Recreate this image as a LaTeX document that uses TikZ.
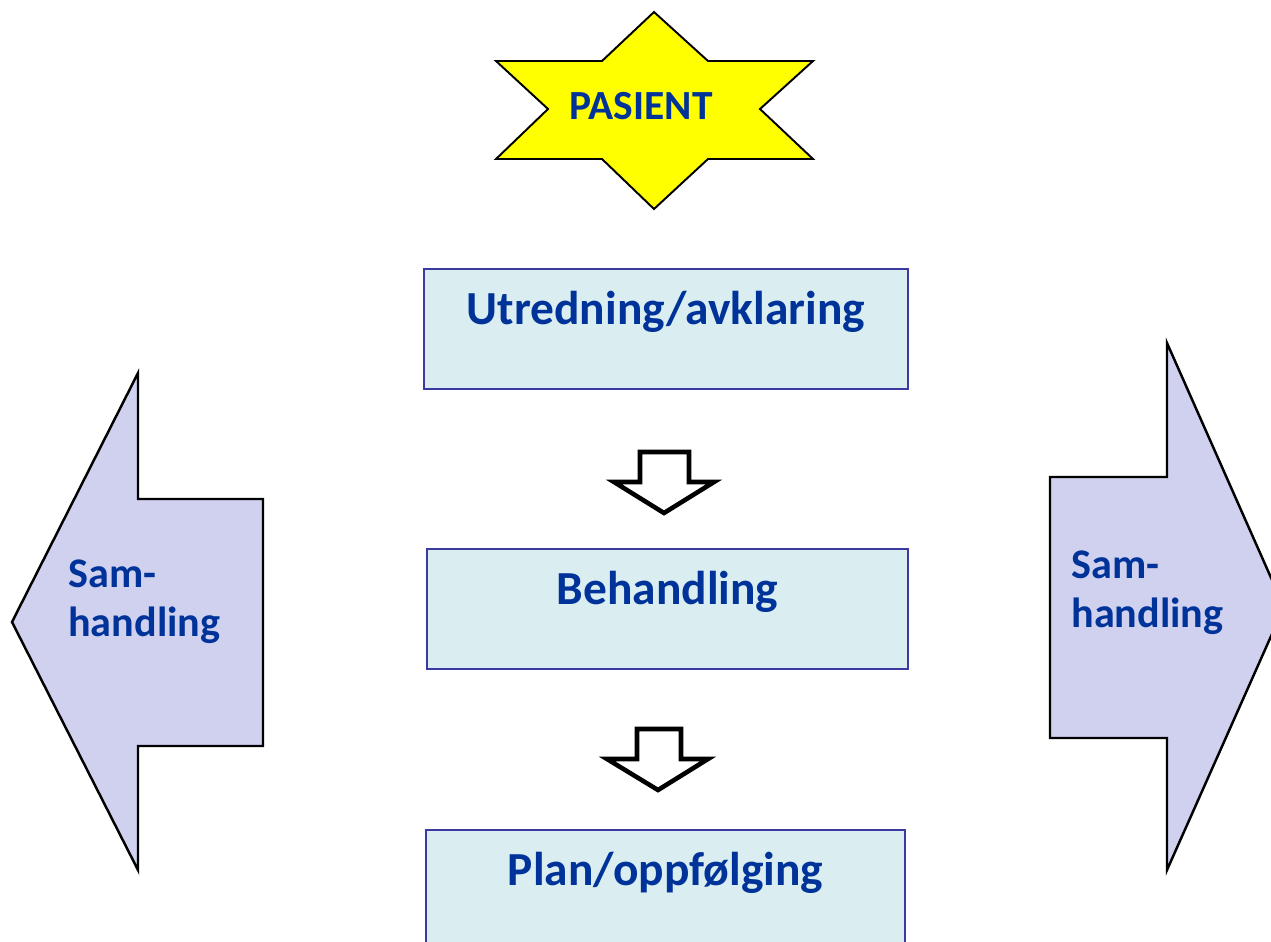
\documentclass[tikz,border=0pt]{standalone}
\usepackage{fontspec}
\setmainfont{Carlito}
\definecolor{txtblue}{RGB}{0, 51, 153}
\definecolor{boxline}{RGB}{58, 58, 160}
\definecolor{boxfill}{RGB}{218, 237, 241}
\definecolor{sidefill}{RGB}{208, 209, 239}
\definecolor{starfill}{RGB}{255, 255, 0}
\usetikzlibrary{positioning}
\tikzset{
    stepbox/.style={
        rectangle, draw=boxline, fill=boxfill, line width=1.2pt,
        text=txtblue, font=\fontsize{27}{32}\selectfont\bfseries,
        minimum height=2.4cm, text height=0.7cm, text depth=0.9cm
    },
    flowarrow/.style={draw=black, fill=white, line width=2.6pt, line join=miter},
    sidearrow/.style={draw=black, fill=sidefill, line width=1.4pt, line join=miter},
    sidetext/.style={text=txtblue, font=\fontsize{24}{28}\selectfont\bfseries, align=left, inner sep=0pt},
    startext/.style={text=txtblue, font=\fontsize{23.6}{27}\selectfont\bfseries, inner sep=0pt}
}

\begin{document}
\begin{tikzpicture}[x=0.02cm, y=-0.02cm]
    \useasboundingbox (0,0) rectangle (1271,941);
    \clip (0,0) rectangle (1271,941);

    % Patient star
    \draw[fill=starfill, line width=1.1pt, line join=miter]
        (654,12) -- (708,61) -- (813,61) -- (760,109) -- (813,159) -- (708,159)
        -- (654,209) -- (602,159) -- (496,159) -- (548,109) -- (496,61) -- (602,61) -- cycle;
    \node[startext, anchor=base] (pas) at (641,119) {PASIENT};

    % Steps
    \node[stepbox, minimum width=9.68cm] (utr) at (666,329) {Utredning/avklaring};
    \node[stepbox, minimum width=9.62cm] (beh) at (667.5,609) {Behandling};
    \node[stepbox, minimum width=9.58cm] (plan) at (665.5,890) {Plan/oppfølging};

    % Arrows between steps
    \draw[flowarrow] (640,452) -- (689,452) -- (689,482) -- (714,482) -- (664,513)
        -- (614,482) -- (640,482) -- cycle;
    \draw[flowarrow] (637,729) -- (681,729) -- (681,759) -- (708,759) -- (658,790)
        -- (607,759) -- (637,759) -- cycle;

    % Samhandling, both sides
    \draw[sidearrow] (12,622) -- (138,373) -- (138,499) -- (263,499) -- (263,746)
        -- (138,746) -- (138,870) -- cycle;
    \draw[sidearrow] (1284,607) -- (1167,343) -- (1167,477) -- (1050,477) -- (1050,738)
        -- (1167,738) -- (1167,870) -- cycle;
    \node[sidetext, anchor=north west] (samv) at (68,559) {Sam-\\handling};
    \node[sidetext, anchor=north west] (samh) at (1071,550) {Sam-\\handling};

\end{tikzpicture}
\end{document}
